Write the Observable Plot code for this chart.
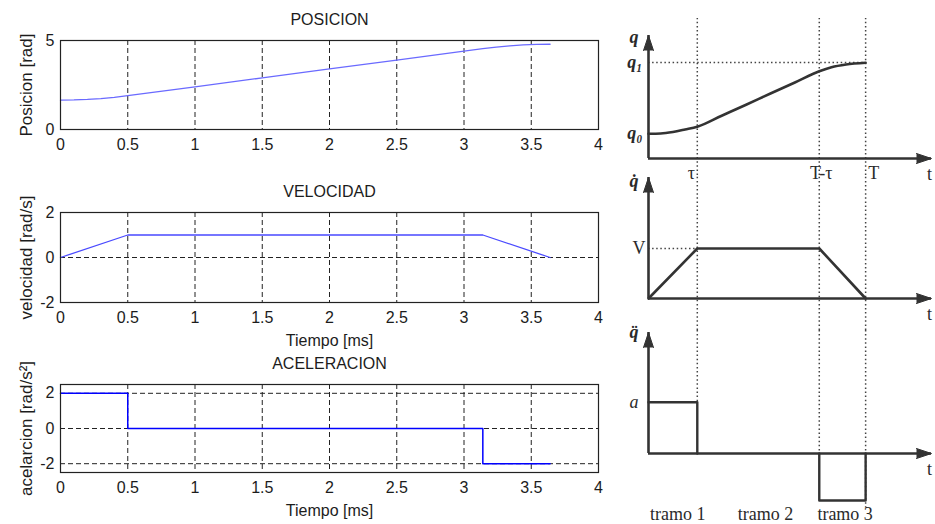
<!DOCTYPE html>
<html>
<head>
<meta charset="utf-8">
<script src="https://cdn.jsdelivr.net/npm/d3@7"></script>
<script src="https://cdn.jsdelivr.net/npm/@observablehq/plot@0.6"></script>
<style>
  html, body { margin: 0; padding: 0; background: #fff; }
  #wrap { position: relative; width: 935px; height: 524px; background: #fff; overflow: hidden; }
</style>
</head>
<body>
<div id="wrap"></div>
<script>
// ---------- Left (MATLAB) data ----------
const xTicks = [0, 0.5, 1, 1.5, 2, 2.5, 3, 3.5, 4];
const xGrid = [0.5, 1, 1.5, 2, 2.5, 3, 3.5];

const posT = [0, 0.1, 0.2, 0.3, 0.4, 0.5, 1, 1.5, 2, 2.5, 3, 3.14, 3.24, 3.34, 3.44, 3.54, 3.64];
const posQ = [1.65, 1.66, 1.69, 1.74, 1.81, 1.9, 2.4, 2.9, 3.4, 3.9, 4.4, 4.54, 4.63, 4.70, 4.75, 4.78, 4.79];

const velT = [0, 0.5, 3.14, 3.64];
const velV = [0, 1, 1, 0];

const accT = [0, 0.5, 0.5, 3.14, 3.14, 3.64];
const accA = [2, 2, 0, 0, -2, -2];

const posYTicks = [0, 5];
const velYTicks = [-2, 0, 2];
const accYTicks = [-2, 0, 2];

const titles = ["POSICION", "VELOCIDAD", "ACELERACION"];
const yLabels = ["Posicion [rad]", "velocidad [rad/s]", "acelarcion [rad/s²]"];
const xLabel = "Tiempo [ms]";

// ---------- Right (schematic) data ----------
const keyNames = ["τ", "T-τ", "T"];
const keyTimes = [1, 3.5, 4.45];   // τ, T-τ, T
const tMax = 5.8;
const q0 = 1, q1 = 3.84;
const curveT = [0, 0.25, 0.5, 0.75, 1, 1.5, 2, 2.5, 3, 3.5, 3.75, 4.05, 4.45];
const curveQ = [0.99, 1.0, 1.06, 1.16, 1.27, 1.71, 2.15, 2.6, 3.04, 3.49, 3.65, 3.76, 3.83];
const vLevel = 2;
const trapT = [0, 1, 3.5, 4.45];
const trapV = [0, 2, 2, 0];
const aPos = 2.05, aNeg = -1.88;
const accR1T = [0, 1, 1];
const accR1A = [aPos, aPos, 0];
const accR2T = [3.5, 3.5, 4.45, 4.45];
const accR2A = [0, aNeg, aNeg, 0];
const tramoNames = ["tramo 1", "tramo 2", "tramo 3"];
const tramoX = [0.6, 2.4, 4.03];

const W = 935, H = 524;
const wrap = document.getElementById("wrap");
const zip2 = (a, b, ka, kb) => a.map((v, i) => ({[ka]: v, [kb]: b[i]}));

function add(svg) {
  wrap.appendChild(svg);
}

const leftStyle = "position:absolute;left:0;top:0;background:transparent;font-family:'Liberation Sans',Arial,sans-serif;font-size:16px;color:#1c1c1c;overflow:visible;";

function leftChart({top, bottom, yDomain, yTicks, yGrid, data, stroke, strokeWidth, title, titleDy, ylabel, xlabel}) {
  const marks = [
    Plot.ruleX(xGrid, {stroke: "#222", strokeDasharray: "5,3", strokeWidth: 1}),
  ];
  if (yGrid.length) marks.push(Plot.ruleY(yGrid, {stroke: "#222", strokeDasharray: "5,3", strokeWidth: 1}));
  marks.push(
    Plot.line(data, {x: "t", y: "v", stroke, strokeWidth}),
    Plot.frame({stroke: "#222", strokeWidth: 1.2}),
    Plot.text([title], {text: d => d, frameAnchor: "top", dy: titleDy, fontSize: 16, textAnchor: "middle", lineAnchor: "middle"}),
    Plot.text([ylabel], {text: d => d, frameAnchor: "left", dx: -34, rotate: -90, fontSize: 17, textAnchor: "middle", lineAnchor: "middle"})
  );
  if (xlabel) marks.push(Plot.text([xlabel], {text: d => d, frameAnchor: "bottom", dy: 38, fontSize: 16, textAnchor: "middle", lineAnchor: "middle"}));
  return Plot.plot({
    width: W, height: H,
    marginLeft: 60, marginRight: W - 598, marginTop: top, marginBottom: H - bottom,
    style: leftStyle,
    x: {domain: [0, 4], ticks: xTicks, tickFormat: d => String(d), tickSize: 0, tickPadding: 9, label: null},
    y: {domain: yDomain, ticks: yTicks, tickFormat: d => String(d), tickSize: 0, tickPadding: 6, label: null},
    marks
  });
}

add(leftChart({top: 40, bottom: 129, yDomain: [0, 5], yTicks: posYTicks, yGrid: [],
  data: zip2(posT, posQ, "t", "v"), stroke: "#6a6aff", strokeWidth: 1.3,
  title: titles[0], titleDy: -21, ylabel: yLabels[0], xlabel: null}));
add(leftChart({top: 212, bottom: 302, yDomain: [-2, 2], yTicks: velYTicks, yGrid: [0],
  data: zip2(velT, velV, "t", "v"), stroke: "#4a4aff", strokeWidth: 1.3,
  title: titles[1], titleDy: -21, ylabel: yLabels[1], xlabel: xLabel}));
add(leftChart({top: 384, bottom: 472, yDomain: [-2.5, 2.5], yTicks: accYTicks, yGrid: accYTicks,
  data: zip2(accT, accA, "t", "v"), stroke: "#0000ff", strokeWidth: 1.5,
  title: titles[2], titleDy: -21, ylabel: yLabels[2], xlabel: xLabel}));

// ---------- Right charts ----------
const rightStyle = "position:absolute;left:0;top:0;background:transparent;font-family:'Liberation Serif','DejaVu Serif',serif;font-size:18px;color:#2a2a2a;overflow:visible;";
const ink = "#333";
const dotted = {stroke: "#444", strokeDasharray: "1.5,2.6", strokeWidth: 1.5};

function axesMarks(yMax) {
  return [
    Plot.ruleX([0], {y1: 0, y2: yMax, stroke: ink, strokeWidth: 2.6}),
    Plot.ruleY([0], {x1: 0, x2: tMax, stroke: ink, strokeWidth: 2.6}),
    Plot.vector([{x: 0, y: yMax}], {x: "x", y: "y", length: 15, r: 5, rotate: 0, anchor: "end", shape: "spike", fill: ink, stroke: ink, strokeWidth: 1}),
    Plot.vector([{x: tMax, y: 0}], {x: "x", y: "y", length: 15, r: 5, rotate: 90, anchor: "end", shape: "spike", fill: ink, stroke: ink, strokeWidth: 1}),
    Plot.text(["t"], {text: d => d, x: tMax, y: 0, dx: -2, dy: 16})
  ];
}

function rightChart(top, bottom, yMax, marks) {
  return Plot.plot({
    width: W, height: H,
    marginLeft: 648, marginRight: W - 931, marginTop: top, marginBottom: H - bottom,
    style: rightStyle,
    x: {domain: [0, tMax], axis: null},
    y: {domain: [0, yMax], axis: null},
    marks
  });
}

// R1: position
const r1Max = 4.92;
const keyDx = [-6, 2, 8];
add(rightChart(35, 158, r1Max, [
  Plot.ruleX(keyTimes, {y1: -0.68, y2: 5.6, ...dotted}),
  Plot.ruleY([q1], {x1: 0, x2: keyTimes[2], ...dotted}),
  ...axesMarks(r1Max),
  Plot.line(zip2(curveT, curveQ, "t", "q"), {x: "t", y: "q", curve: "monotone-x", stroke: ink, strokeWidth: 2.6}),
  Plot.text(["q"], {text: d => d, x: 0, y: r1Max, dx: -10, dy: 2, textAnchor: "end", fontStyle: "italic", fontWeight: "bold"}),
  Plot.text(["q₁"], {text: d => d, x: 0, y: q1, dx: -6, textAnchor: "end", fontStyle: "italic", fontWeight: "bold"}),
  Plot.text(["q₀"], {text: d => d, x: 0, y: q0, dx: -6, textAnchor: "end", fontStyle: "italic", fontWeight: "bold"}),
  ...keyNames.map((name, i) => Plot.text([name], {text: d => d, x: keyTimes[i], y: 0, dx: keyDx[i], dy: 15}))
]));

// R2: velocity
const r2Max = 4.84;
add(rightChart(177, 298, r2Max, [
  Plot.ruleX(keyTimes, {y1: -1.28, y2: 4.92, ...dotted}),
  Plot.ruleY([vLevel], {x1: 0, x2: keyTimes[0], ...dotted}),
  ...axesMarks(r2Max),
  Plot.line(zip2(trapT, trapV, "t", "v"), {x: "t", y: "v", stroke: ink, strokeWidth: 2.6}),
  Plot.text(["q̇"], {text: d => d, x: 0, y: r2Max, dx: -10, dy: 4, textAnchor: "end", fontStyle: "italic", fontWeight: "bold"}),
  Plot.text(["V"], {text: d => d, x: 0, y: vLevel, dx: -3, textAnchor: "end"})
]));

// R3: acceleration
const r3Max = 4.84;
const r3Dots = [
  {t: keyTimes[0], y1: 4.92, y2: aPos},
  {t: keyTimes[1], y1: 4.92, y2: 0},
  {t: keyTimes[2], y1: 4.92, y2: -2.16}
];
add(rightChart(332, 453, r3Max, [
  Plot.ruleX(r3Dots, {x: "t", y1: "y1", y2: "y2", ...dotted}),
  ...axesMarks(r3Max),
  Plot.line(zip2(accR1T, accR1A, "t", "a"), {x: "t", y: "a", stroke: ink, strokeWidth: 2.4}),
  Plot.line(zip2(accR2T, accR2A, "t", "a"), {x: "t", y: "a", stroke: ink, strokeWidth: 2.4}),
  Plot.text(["q̈"], {text: d => d, x: 0, y: r3Max, dx: -10, dy: 0, textAnchor: "end", fontStyle: "italic", fontWeight: "bold"}),
  Plot.text(["a"], {text: d => d, x: 0, y: aPos, dx: -10, textAnchor: "end", fontStyle: "italic"}),
  Plot.text(tramoNames, {text: d => d, x: (d, i) => tramoX[i], y: 0, dy: 61})
]));
</script>
</body>
</html>
